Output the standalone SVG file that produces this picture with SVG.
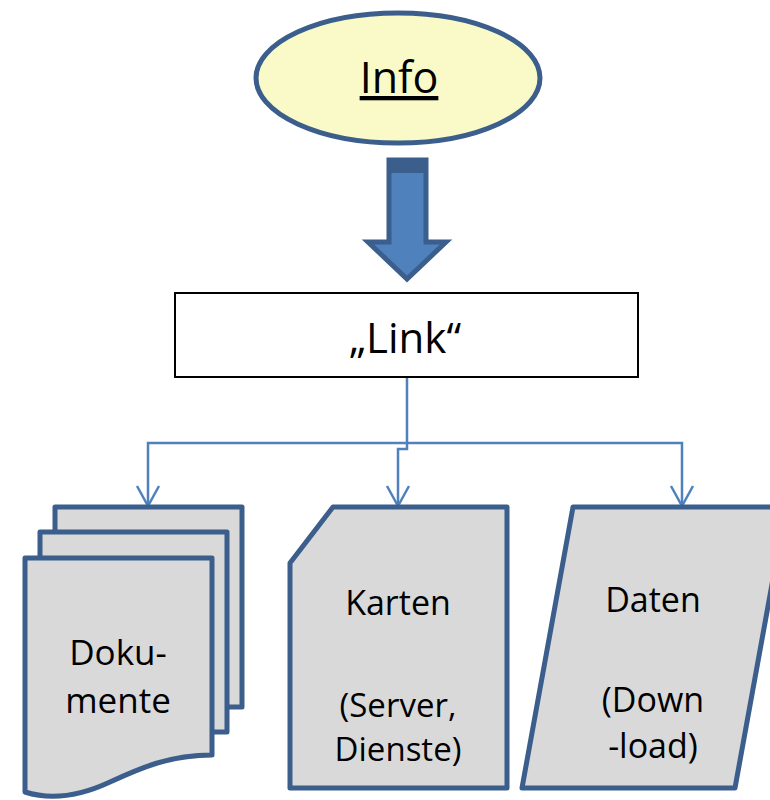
<svg xmlns="http://www.w3.org/2000/svg" width="770" height="800" viewBox="0 0 770 800">
<defs>
<style>
.t{font-family:"Open Sans","Noto Sans","Liberation Sans",sans-serif;fill:#000;text-anchor:middle}
.shape{fill:#d9d9d9;stroke:#3b5e8c;stroke-width:5;stroke-linejoin:round}
.conn{fill:none;stroke:#4f81bd;stroke-width:2.5}
</style>
<marker id="open" viewBox="0 0 24 26" refX="22" refY="13" markerWidth="24" markerHeight="26" markerUnits="userSpaceOnUse" orient="auto">
<path d="M2,2 L22,13 L2,24" fill="none" stroke="#4f81bd" stroke-width="2.5"/>
</marker>
</defs>
<rect width="770" height="800" fill="#fff"/>

<g id="info">
<ellipse cx="398" cy="78" rx="142" ry="65" fill="#fafac8" stroke="#3b5e8c" stroke-width="5"/>
<text class="t" x="399" y="93" font-size="43" text-decoration="underline">Info</text>
</g>

<g id="block-arrow">
<path d="M389,160 H426 V242 H446 L407,279 L368,242 H389 Z" fill="#4f81bd" stroke="#3b5e8c" stroke-width="5" stroke-linejoin="miter"/>
<rect x="387" y="158" width="41" height="15" fill="#3b5e8c"/>
</g>

<g id="link">
<rect x="175" y="293" width="463" height="84" fill="#fff" stroke="#000" stroke-width="2"/>
<text class="t" x="405" y="353" font-size="42">„Link“</text>
</g>

<g id="connectors">
<path class="conn" d="M407,378 V449 H398 V506" marker-end="url(#open)"/>
<path class="conn" d="M407,443 H148 V506" marker-end="url(#open)"/>
<path class="conn" d="M407,443 H682 V506" marker-end="url(#open)"/>
</g>

<g id="dokumente">
<rect class="shape" x="55" y="507" width="187" height="200"/>
<rect class="shape" x="40" y="532" width="187" height="200"/>
<path class="shape" d="M25,558 H212 V755 C170,755 140,768 110,782 C80,796 50,800 25,792 Z"/>
<text class="t" x="118" y="665" font-size="35">Doku-</text>
<text class="t" x="118" y="713" font-size="35">mente</text>
</g>

<g id="karten">
<path class="shape" d="M333,507 H507 V788 H290 V563 Z"/>
<text class="t" x="398" y="615" font-size="34">Karten</text>
<text class="t" x="398" y="717" font-size="33">(Server,</text>
<text class="t" x="398" y="761" font-size="33">Dienste)</text>
</g>

<g id="daten">
<path class="shape" d="M573,507 H786 L735,788 H522 Z"/>
<text class="t" x="653" y="612" font-size="34">Daten</text>
<text class="t" x="653" y="712" font-size="34">(Down</text>
<text class="t" x="653" y="758" font-size="34">-load)</text>
</g>
</svg>
